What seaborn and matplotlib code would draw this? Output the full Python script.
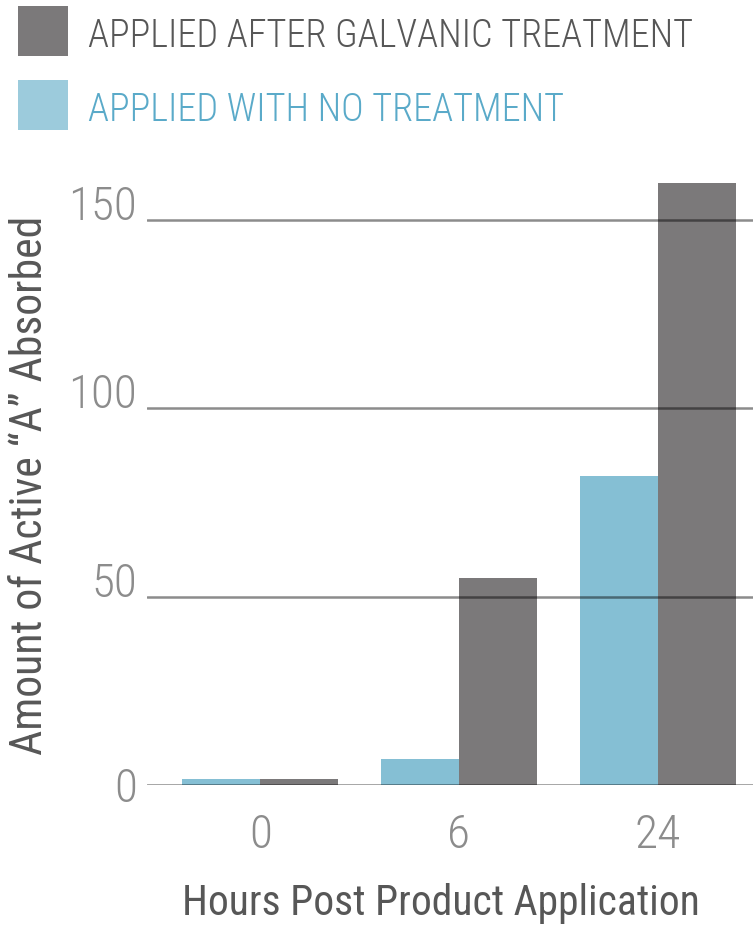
import matplotlib
matplotlib.use("Agg")
import matplotlib.pyplot as plt
from matplotlib import font_manager
from matplotlib.patches import Rectangle
import pandas as pd
import seaborn as sns

# --- data -------------------------------------------------------------
hours = ["0", "6", "24"]
no_treatment = [1.5, 7, 82]
galvanic = [1.5, 55, 160]
series_names = ["APPLIED WITH NO TREATMENT", "APPLIED AFTER GALVANIC TREATMENT"]
y_ticks = [0, 50, 100, 150]

x_title = "Hours Post Product Application"
y_title = "Amount of Active \u201cA\u201d Absorbed"

# --- styling ----------------------------------------------------------
blue_bar = "#85bfd4"
gray_bar = "#7b797a"
blue_key = "#9ccbdc"
blue_text = "#5aaac9"
dark_text = "#575757"
tick_text = "#8c8c8c"

sns.set_theme(style="white")

available = {f.name for f in font_manager.fontManager.ttflist}
family = next(
    (f for f in ["Liberation Sans Narrow", "DejaVu Sans Condensed",
                 "Roboto Condensed", "Roboto", "Liberation Sans"]
     if f in available),
    "DejaVu Sans",
)
plt.rcParams["font.family"] = [family, "DejaVu Sans"]
plt.rcParams["font.weight"] = "light"

df = pd.DataFrame({
    "hours": hours * 2,
    "amount": no_treatment + galvanic,
    "series": [series_names[0]] * len(hours) + [series_names[1]] * len(hours),
})

W, H = 753, 927
fig = plt.figure(figsize=(W / 100, H / 100), dpi=100)
ax = fig.add_axes([147 / W, (H - 785) / H, (W - 147) / W, 610 / H])

sns.barplot(
    data=df, x="hours", y="amount", hue="series", order=hours,
    hue_order=series_names, palette=[blue_bar, gray_bar], saturation=1,
    width=0.786, gap=0, linewidth=0, legend=False, ax=ax,
)

ax.set_xlim(-0.57, 2.48)
ax.set_ylim(0, 162)
ax.set_yticks(y_ticks)
ax.set_yticklabels([str(v) for v in y_ticks])

# horizontal rules drawn over the bars
ax.set_axisbelow(False)
ax.grid(axis="y", color="black", alpha=0.45, linewidth=1.8)
ax.grid(axis="x", visible=False)
for s in ax.spines.values():
    s.set_visible(False)

ax.tick_params(axis="y", length=0, pad=7, labelsize=34, labelcolor=tick_text)
ax.tick_params(axis="x", length=0, pad=20, labelsize=34, labelcolor=tick_text)
for lab, v in zip(ax.get_yticklabels(), y_ticks):
    lab.set_va("center_baseline" if v == 0 else "baseline")

ax.set_xlabel(x_title, fontsize=30, color=dark_text)
ax.xaxis.set_label_coords(0.485, -0.195)
ax.xaxis.label.set_va("center")
ax.set_ylabel(y_title, fontsize=31.5, color=dark_text)
ax.yaxis.set_label_coords(-0.193, 0.492)
ax.yaxis.label.set_va("center")

# key: colour swatch + label per series, top-left of the figure
key_rows = [
    (series_names[1], gray_bar, dark_text, 6),
    (series_names[0], blue_key, blue_text, 80),
]
for label, swatch, txt_color, top in key_rows:
    fig.add_artist(Rectangle(
        (18 / W, 1 - (top + 50) / H), 50 / W, 50 / H,
        transform=fig.transFigure, facecolor=swatch, edgecolor="none",
    ))
    fig.text(88 / W, 1 - (top + 26) / H, label, fontsize=27.5,
             color=txt_color, ha="left", va="center_baseline")

fig.savefig("out.png", dpi=100)
